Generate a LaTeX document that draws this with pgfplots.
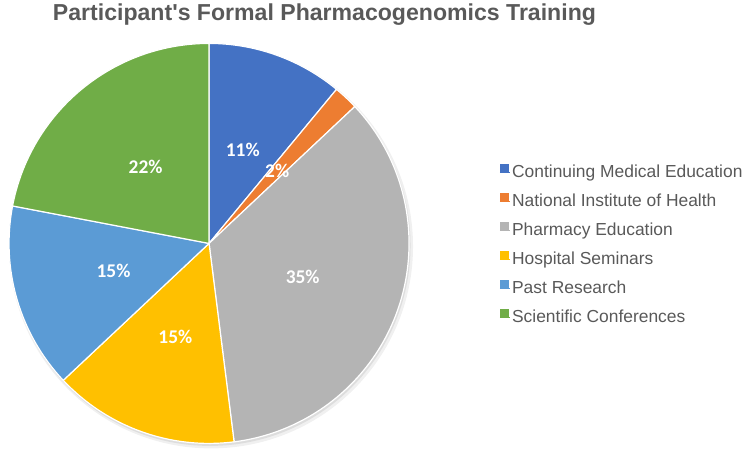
\documentclass[border=0pt]{standalone}
\usepackage{fontspec}
\setmainfont{Liberation Sans}
\newfontfamily\labelfont{Carlito}
\usepackage{pgfplots}
\pgfplotsset{compat=1.18}
\definecolor{txt}{HTML}{595959}
\definecolor{c1}{HTML}{4472C4}
\definecolor{c2}{HTML}{ED7D31}
\definecolor{c3}{HTML}{B4B4B4}
\definecolor{c4}{HTML}{FFC000}
\definecolor{c5}{HTML}{5B9BD5}
\definecolor{c6}{HTML}{70AD47}
% pie centre and radius, in pixels of the 744x457 canvas (y counted from the bottom)
\def\cx{207}
\def\cy{215}
\def\R{201}
% \slice{colour}{percent before}{percent}{label}
\newcommand\slice[4]{%
  \fill[#1, draw=white, line width=1.2pt, line join=round]
    (axis cs:\cx,\cy) -- ([shift={({90-3.6*#2}:\R pt)}]axis cs:\cx,\cy)
    arc[start angle={90-3.6*#2}, end angle={90-3.6*(#2+#3)}, radius=\R pt] -- cycle;
}
\newcommand\slicelabel[3]{%
  \node[text=white, font=\labelfont\bfseries\fontsize{19.5}{22}\selectfont]
    at ([shift={({90-3.6*(#1+#2/2)}:100pt)}]axis cs:\cx,\cy) {#3};
}
\begin{document}
\begin{tikzpicture}
\begin{axis}[
  x=1pt, y=1pt,
  xmin=0, xmax=744, ymin=0, ymax=457,
  hide axis, clip=false,
  legend style={
    at={(axis cs:499,295)}, anchor=north west,
    draw=none, fill=none, inner sep=0pt,
    font=\fontsize{17.5}{20}\selectfont, text=txt,
    row sep=11.4pt,
    nodes={inner xsep=1.5pt, inner ysep=0pt, text height=12pt, text depth=4pt},
    legend cell align=left,
  },
  legend image code/.code={\fill[#1] (0pt,1pt) rectangle (8.5pt,9.5pt);
    \path (0pt,1pt) -- (10.5pt,1pt);},
]
% soft shadow under the pie
\fill[black, opacity=0.06] (axis cs:209,212) circle[radius=203pt];
\fill[black, opacity=0.08] (axis cs:208,213) circle[radius=201.5pt];

\slice{c1}{0}{11}{}
\slice{c2}{11}{2}{}
\slice{c3}{13}{35}{}
\slice{c4}{48}{15}{}
\slice{c5}{63}{15}{}
\slice{c6}{78}{22}{}

\slicelabel{0}{11}{11\%}
\slicelabel{11}{2}{2\%}
\slicelabel{13}{35}{35\%}
\slicelabel{48}{15}{15\%}
\slicelabel{63}{15}{15\%}
\slicelabel{78}{22}{22\%}

\node[anchor=base, text=txt, font=\bfseries\fontsize{23.2}{27}\selectfont]
  at (axis cs:323,439.5) {Participant\textquotesingle s Formal Pharmacogenomics Training};

\addlegendimage{c1}\addlegendentry{Continuing Medical Education}
\addlegendimage{c2}\addlegendentry{National Institute of Health}
\addlegendimage{c3}\addlegendentry{Pharmacy Education}
\addlegendimage{c4}\addlegendentry{Hospital Seminars}
\addlegendimage{c5}\addlegendentry{Past Research}
\addlegendimage{c6}\addlegendentry{Scientific Conferences}
\end{axis}
\path (0,0) rectangle (744pt,457pt);
\end{tikzpicture}
\end{document}
